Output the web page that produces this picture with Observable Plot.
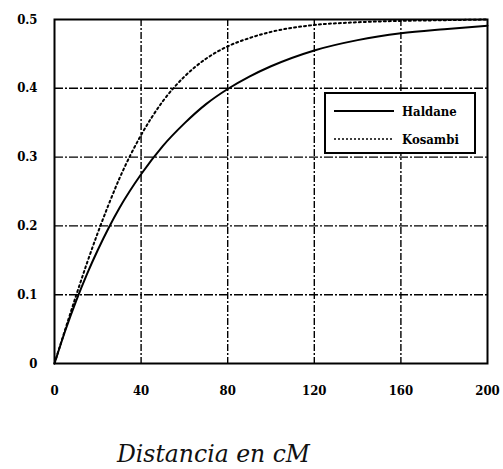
<!DOCTYPE html>
<html><head><meta charset="utf-8">
<script src="https://cdn.jsdelivr.net/npm/d3@7"></script>
<script src="https://cdn.jsdelivr.net/npm/@observablehq/plot@0.6"></script>
<style>
body{margin:0;background:#fff;}
#wrap{position:relative;width:503px;height:469px;}
#legend{position:absolute;left:324px;top:92px;width:152px;height:62px;border:2px solid #000;background:#fff;box-sizing:border-box;}
#legend text{font-family:"DejaVu Serif Condensed","DejaVu Serif",serif;font-size:13px;font-weight:bold;}
#caption{position:absolute;left:117px;top:440px;white-space:nowrap;font-family:"DejaVu Serif","DejaVu Serif Condensed",serif;font-style:italic;font-size:23.5px;line-height:28px;color:#111;}
</style>
</head><body>
<div id="wrap"><div id="chart"></div>
<div id="legend"><svg width="148" height="58">
<line x1="8" x2="68" y1="17" y2="17" stroke="#000" stroke-width="2"/>
<text x="76" y="22">Haldane</text>
<line x1="8" x2="68" y1="45" y2="45" stroke="#000" stroke-width="1.5" stroke-dasharray="2,2"/>
<text x="76" y="50">Kosambi</text>
</svg></div>
<div id="caption">Distancia en cM</div>
</div>
<script>
const distance = [0,5,10,15,20,25,30,40,50,60,70,80,90,100,120,140,160,180,200];
const haldane  = [0,0.048,0.091,0.130,0.165,0.197,0.226,0.275,0.316,0.349,0.377,0.399,0.417,0.432,0.455,0.470,0.480,0.486,0.491];
const kosambi  = [0,0.050,0.099,0.146,0.190,0.231,0.269,0.332,0.381,0.417,0.443,0.461,0.473,0.482,0.492,0.496,0.498,0.499,0.500];
const xTicks = [0,40,80,120,160,200];
const yTicks = [0,0.1,0.2,0.3,0.4,0.5];
const yLabels = ["0","0.1","0.2","0.3","0.4","0.5"];

const rowsH = distance.map((d,i)=>({d, r: haldane[i]}));
const rowsK = distance.map((d,i)=>({d, r: kosambi[i]}));

const serif = '"DejaVu Serif Condensed","DejaVu Serif",serif';
const chart = Plot.plot({
  width: 503, height: 420,
  marginLeft: 54, marginRight: 16, marginTop: 19, marginBottom: 57,
  style: {fontFamily: serif, fontSize: "13px", fontWeight: "bold", background: "#fff", color:"#000"},
  x: {domain: [0,200]},
  y: {domain: [0,0.5]},
  marks: [
    Plot.gridX(xTicks.slice(1,-1), {stroke: "#000", strokeOpacity: 1, strokeWidth: 1.4, strokeDasharray: "7,2,2,2"}),
    Plot.gridY(yTicks.slice(1,-1), {stroke: "#000", strokeOpacity: 1, strokeWidth: 1.4, strokeDasharray: "9,2,2,2"}),
    Plot.axisX(xTicks, {tickSize: 0, tickPadding: 22, label: null, fontWeight: "bold", fontSize: 13, fontFamily: serif}),
    Plot.axisY(yTicks, {tickSize: 0, tickPadding: 17, label: null, tickFormat: (d,i)=>yLabels[i], fontWeight: "bold", fontSize: 13, fontFamily: serif}),
    Plot.line(rowsK, {x: "d", y: "r", stroke: "#000", strokeWidth: 2, strokeDasharray: "2,3", curve: "monotone-x"}),
    Plot.line(rowsH, {x: "d", y: "r", stroke: "#000", strokeWidth: 2, curve: "monotone-x"}),
    Plot.frame({stroke: "#000", strokeWidth: 2})
  ]
});
document.getElementById("chart").appendChild(chart);
</script>
</body></html>
